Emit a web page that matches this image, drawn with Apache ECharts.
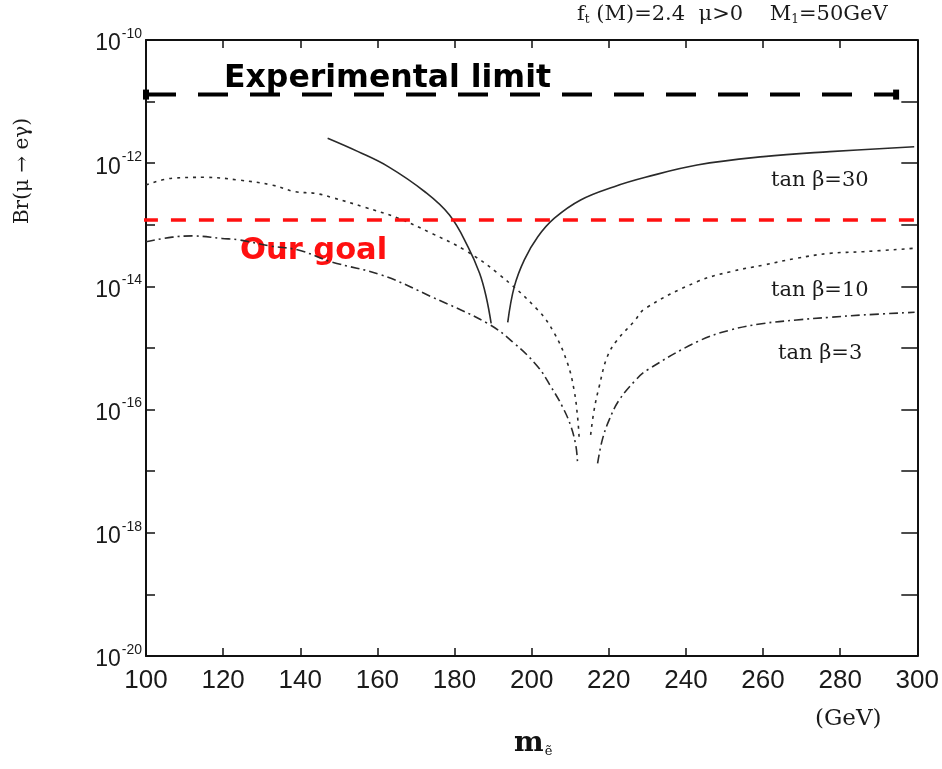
<!DOCTYPE html>
<html>
<head>
<meta charset="utf-8">
<script src="https://cdn.jsdelivr.net/npm/echarts@6/dist/echarts.min.js"></script>
<style>
  html, body { margin: 0; padding: 0; background: #fff; }
  #chart { width: 942px; height: 769px; }
</style>
</head>
<body>
<div id="chart"></div>
<script>
// slepton mass (GeV) and Br(mu -> e gamma)
// each curve has a left and a right branch around its cancellation dip
const m30Left = [147.1, 155.0, 162.8, 172.3, 178.7, 183.5, 186.5, 188.2, 189.5]
const br30Left = [2.54e-12, 1.54e-12, 8.8e-13, 3.44e-13, 1.44e-13, 4.4e-14, 1.63e-14, 6.8e-15, 2.5e-15]
const m30Right = [193.8, 195.5, 198.1, 201.6, 205.9, 212.7, 221.4, 229.5, 242.9, 260.1, 277.3, 299.2]
const br30Right = [2.6e-15, 9.9e-15, 2.7e-14, 6.4e-14, 1.28e-13, 2.53e-13, 4.16e-13, 5.9e-13, 9.35e-13, 1.28e-12, 1.54e-12, 1.85e-12]

const m10Left = [100, 106.8, 115.4, 124.0, 132.6, 138.7, 143.9, 148.1, 156.8, 165.4, 174.0, 182.6, 191.2, 201.6, 205.9, 209.3, 211.0, 211.9, 212.3]
const br10Left = [4.43e-13, 5.7e-13, 5.9e-13, 5.33e-13, 4.43e-13, 3.44e-13, 3.24e-13, 2.79e-13, 1.92e-13, 1.28e-13, 7.3e-14, 3.9e-14, 1.63e-14, 4.14e-15, 1.73e-15, 5.65e-16, 2.08e-16, 7.7e-17, 3.6e-17]
const m10Right = [215.3, 216.2, 217.5, 219.6, 222.2, 226.5, 229.5, 242.9, 251.5, 260.1, 268.7, 277.3, 286.0, 299.3]
const br10Right = [3.9e-17, 9.9e-17, 2.35e-16, 7.2e-16, 1.35e-15, 2.67e-15, 4.4e-15, 1.19e-14, 1.73e-14, 2.22e-14, 2.86e-14, 3.44e-14, 3.66e-14, 4.16e-14]

const m3Left = [100, 106.8, 112.0, 119.7, 124.0, 132.6, 139.5, 148.1, 161.1, 174.0, 188.6, 195.5, 201.6, 205.0, 208.0, 210.2, 211.5, 211.9]
const br3Left = [5.3e-14, 6.3e-14, 6.6e-14, 6.0e-14, 5.7e-14, 4.5e-14, 3.9e-14, 2.5e-14, 1.53e-14, 6.8e-15, 2.5e-15, 1.19e-15, 4.97e-16, 2.35e-16, 1.11e-16, 5.3e-17, 2.5e-17, 1.34e-17]
const m3Right = [217.1, 218.3, 220.1, 222.7, 227.0, 230.0, 242.9, 251.5, 260.1, 268.7, 277.3, 286.0, 299.3]
const br3Right = [1.34e-17, 3.2e-17, 6.8e-17, 1.43e-16, 3.03e-16, 4.4e-16, 1.26e-15, 1.96e-15, 2.5e-15, 2.85e-15, 3.15e-15, 3.44e-15, 3.8e-15]

// horizontal reference lines
const limitM = [100, 294.5]
const limitBr = 1.3e-11
const goalM = [99.2, 299.4]
const goalBr = 1.2e-13

const xTicks = [100, 120, 140, 160, 180, 200, 220, 240, 260, 280, 300]

function branches(mL, bL, mR, bR) {
  const left = mL.map((m, i) => [m, bL[i]])
  const right = mR.map((m, i) => [m, bR[i]])
  // a '-' value breaks the line at the dip
  return left.concat([[(mL[mL.length - 1] + mR[0]) / 2, '-']], right)
}

const curveColor = '#2a2a2a'
const serif = '"DejaVu Serif", "Liberation Serif", serif'
const sans = '"Liberation Sans", Arial, sans-serif'
const comic = '"Comic Sans MS", "DejaVu Sans", sans-serif'

const chart = echarts.init(document.getElementById('chart'))

const logAxis = {
  type: 'log',
  logBase: 10,
  min: 1e-20,
  max: 1e-10,
  interval: 1,
  splitNumber: 10,
  axisLine: { lineStyle: { color: '#111', width: 2 } },
  splitLine: { show: false }
}

const option = {
  animation: false,
  grid: { left: 146, top: 40, right: 21, bottom: 113, containLabel: false },
  xAxis: [
    {
      type: 'value',
      min: xTicks[0],
      max: xTicks[xTicks.length - 1],
      interval: 20,
      axisLine: { lineStyle: { color: '#111', width: 2 } },
      axisTick: { inside: true, length: 8, lineStyle: { color: '#111', width: 1.5 } },
      axisLabel: { fontFamily: sans, fontSize: 26, color: '#1a1a1a', margin: 12 },
      splitLine: { show: false }
    },
    {
      type: 'value',
      position: 'top',
      min: xTicks[0],
      max: xTicks[xTicks.length - 1],
      interval: 20,
      axisLine: { lineStyle: { color: '#111', width: 2 } },
      axisTick: { inside: true, length: 8, lineStyle: { color: '#111', width: 1.5 } },
      axisLabel: { show: false },
      splitLine: { show: false }
    }
  ],
  yAxis: [
    Object.assign({}, logAxis, {
      axisTick: { inside: true, length: 9, lineStyle: { color: '#111', width: 1.5 } },
      axisLabel: {
        margin: 4,
        formatter: function (v) {
          const e = Math.round(Math.log10(v))
          return e % 2 === 0 ? '{b|10}{s|' + e + '}' : ''
        },
        rich: {
          b: { fontFamily: sans, fontSize: 23, color: '#1a1a1a', lineHeight: 26, padding: [8, 0, 0, 0] },
          s: { fontFamily: sans, fontSize: 14, color: '#1a1a1a', verticalAlign: 'top', lineHeight: 26, padding: [0, 0, 0, 1] }
        }
      }
    }),
    Object.assign({}, logAxis, {
      position: 'right',
      axisTick: { inside: true, length: 16, lineStyle: { color: '#111', width: 1.5 } },
      axisLabel: { show: false }
    })
  ],
  series: [
    {
      name: 'tanβ=30',
      type: 'line',
      data: branches(m30Left, br30Left, m30Right, br30Right),
      showSymbol: false,
      smooth: 0.4,
      lineStyle: { color: curveColor, width: 1.6 }
    },
    {
      name: 'tanβ=10',
      type: 'line',
      data: branches(m10Left, br10Left, m10Right, br10Right),
      showSymbol: false,
      smooth: 0.4,
      lineStyle: { color: curveColor, width: 1.6, type: [3, 5] }
    },
    {
      name: 'tanβ=3',
      type: 'line',
      data: branches(m3Left, br3Left, m3Right, br3Right),
      showSymbol: false,
      smooth: 0.4,
      lineStyle: { color: curveColor, width: 1.6, type: [9, 4, 2, 4] }
    },
    {
      name: 'Experimental limit',
      type: 'line',
      data: limitM.map(m => [m, limitBr]),
      symbol: 'rect',
      symbolSize: [6, 10],
      itemStyle: { color: '#000' },
      lineStyle: { color: '#000', width: 4, type: [30, 22] }
    },
    {
      name: 'Our goal',
      type: 'line',
      data: goalM.map(m => [m, goalBr]),
      showSymbol: false,
      lineStyle: { color: '#ff1010', width: 3.5, type: [15, 13] }
    }
  ],
  graphic: [
    {
      type: 'text', left: 577, top: 4,
      style: {
        text: '{n|f}{sub|t}{n| (M)=2.4  μ>0    M}{sub|1}{n|=50GeV}',
        rich: {
          n: { fontFamily: serif, fontSize: 21, fill: '#1a1a1a' },
          sub: { fontFamily: serif, fontSize: 12, fill: '#1a1a1a', verticalAlign: 'bottom', padding: [10, 0, 0, 0] }
        }
      }
    },
    {
      type: 'text', left: 13, top: 118,
      rotation: Math.PI / 2, originX: 0, originY: 0,
      style: { text: 'Br(μ → eγ)', fontFamily: serif, fontSize: 20, fill: '#1a1a1a' }
    },
    {
      type: 'text', left: 224, top: 63,
      style: { text: 'Experimental limit', fontFamily: comic, fontWeight: 'bold', fontSize: 31.5, fill: '#000' }
    },
    {
      type: 'text', left: 240, top: 236,
      style: { text: 'Our goal', fontFamily: comic, fontWeight: 'bold', fontSize: 30.5, fill: '#ff1010' }
    },
    {
      type: 'text', left: 771, top: 170,
      style: { text: 'tan β=30', fontFamily: serif, fontSize: 21, fill: '#1a1a1a' }
    },
    {
      type: 'text', left: 771, top: 280,
      style: { text: 'tan β=10', fontFamily: serif, fontSize: 21, fill: '#1a1a1a' }
    },
    {
      type: 'text', left: 778, top: 343,
      style: { text: 'tan β=3', fontFamily: serif, fontSize: 21, fill: '#1a1a1a' }
    },
    {
      type: 'text', left: 815, top: 708,
      style: { text: '(GeV)', fontFamily: serif, fontSize: 23, fill: '#1a1a1a' }
    },
    {
      type: 'text', left: 514, top: 730,
      style: {
        text: '{m|m}{sub|ẽ}',
        rich: {
          m: { fontFamily: serif, fontWeight: 'bold', fontSize: 28, fill: '#111' },
          sub: { fontFamily: serif, fontSize: 13, fill: '#111', verticalAlign: 'bottom', padding: [14, 0, 0, 1] }
        }
      }
    }
  ]
}

chart.setOption(option)
</script>
</body>
</html>
